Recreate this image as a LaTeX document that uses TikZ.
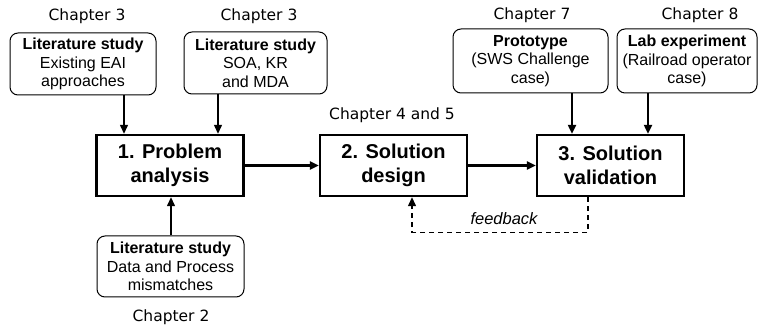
\documentclass[tikz,border=0pt]{standalone}
\usepackage{fontspec}
\setmainfont{Liberation Sans}
\newfontfamily\chapfont{DejaVu Sans}
\usetikzlibrary{arrows.meta}
\begin{document}
\begin{tikzpicture}[x=1pt,y=-1pt,
  litbox/.style={draw,line width=1pt,rounded corners=8pt,align=center,inner sep=0pt,
    font=\fontsize{16}{18.3}\selectfont},
  mainbox/.style={draw,line width=2.4pt,align=center,inner sep=0pt,minimum width=147pt,minimum height=61pt,
    font=\fontsize{20}{24}\selectfont\bfseries},
  chap/.style={font=\chapfont\fontsize{15.5}{18}\selectfont,inner sep=0pt},
  thinarr/.style={line width=1.3pt,-{Triangle[length=9pt,width=8pt]}},
  thickarr/.style={line width=2.2pt,-{Triangle[length=9pt,width=8pt]}},
  fbarr/.style={line width=1.3pt,dash pattern=on 5pt off 4pt,-{Triangle[length=9pt,width=8pt]}}]
\useasboundingbox (0,0) rectangle (765,328);

% chapter labels
\node[chap] (c3a) at (87,16) {Chapter 3};
\node[chap] (c3b) at (259,16) {Chapter 3};
\node[chap] (c7) at (532,15) {Chapter 7};
\node[chap] (c8) at (700,15) {Chapter 8};
\node[chap] (c45) at (392,115) {Chapter 4 and 5};
\node[chap] (c2) at (171,317) {Chapter 2};

% literature boxes
\node[litbox,minimum width=146pt,minimum height=62pt] (A) at (83,64)
  {\textbf{Literature study}\\Existing EAI\\approaches};
\node[litbox,minimum width=143pt,minimum height=62pt] (B) at (255.5,63)
  {\textbf{Literature study}\\SOA, KR\\and MDA};
\node[litbox,minimum width=155pt,minimum height=64pt] (C) at (530.5,61)
  {\textbf{Prototype}\\(SWS Challenge\\case)};
\node[litbox,minimum width=140pt,minimum height=64pt] (D) at (687,61)
  {\textbf{Lab experiment}\\(Railroad operator\\case)};
\node[litbox,minimum width=147pt,minimum height=61pt] (E) at (170.5,266.5)
  {\textbf{Literature study}\\Data and Process\\mismatches};

% main boxes
\node[mainbox] (P1) at (170,165.5) {1. Problem\\analysis};
\node[mainbox] (P2) at (393.5,165.5) {2. Solution\\design};
\node[mainbox] (P3) at (610.5,165.5) {3. Solution\\validation};

% connectors
\draw[thinarr] ([xshift=41pt]A.south) -- ([xshift=41pt]A.south |- P1.north);
\draw[thinarr] ([xshift=-37.5pt]B.south) -- ([xshift=-37.5pt]B.south |- P1.north);
\draw[thickarr] ([xshift=41.5pt]C.south) -- ([xshift=41.5pt]C.south |- P3.north);
\draw[thickarr] ([xshift=-39pt]D.south) -- ([xshift=-39pt]D.south |- P3.north);
\draw[thinarr] ([xshift=0.5pt]E.north) -- ([xshift=0.5pt]E.north |- P1.south);
\draw[thickarr] (P1.east) -- (P2.west);
\draw[thickarr] (P2.east) -- (P3.west);

% feedback
\coordinate (fb1) at ([xshift=-22.5pt,yshift=-35pt]P3.south);
\coordinate (fb2) at ([xshift=18.5pt,yshift=-35pt]P2.south);
\draw[fbarr] ([xshift=-22.5pt]P3.south) -- (fb1) -- (fb2) -- ([xshift=18.5pt]P2.south);
\node[font=\fontsize{16.5}{18}\selectfont\itshape,inner sep=0pt] (fb) at (504,219) {feedback};
\end{tikzpicture}
\end{document}
